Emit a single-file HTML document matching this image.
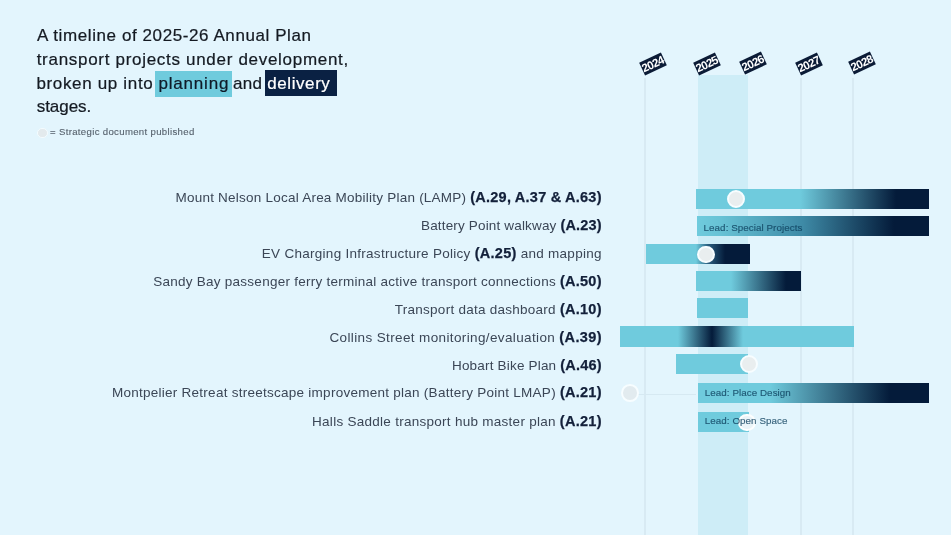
<!DOCTYPE html>
<html><head><meta charset="utf-8">
<style>
html,body{margin:0;padding:0}
body{width:951px;height:535px;overflow:hidden;position:relative;background:#E3F5FD;font-family:"Liberation Sans",sans-serif}
.a{position:absolute}
.t{position:absolute;font-size:17px;-webkit-text-stroke:0.22px currentColor;color:#141a22;white-space:nowrap;line-height:1}
.hl{position:absolute}
.lg{position:absolute;left:50px;top:127.4px;font-size:9.6px;letter-spacing:0.33px;color:#57626d;-webkit-text-stroke:0.12px #57626d;white-space:nowrap;line-height:1}
.grid{position:absolute;top:78px;width:2px;height:457px;background:#D8EAF3}
.yr{position:absolute;width:24px;height:14px;background:#0B1B36;color:#fff;font-weight:bold;font-size:11.5px;letter-spacing:-0.65px;text-indent:-0.65px;line-height:15px;text-align:center;transform:rotate(-25deg)}
.lab{position:absolute;right:349.5px;font-size:13.5px;color:#3b4656;white-space:nowrap;line-height:1;text-align:right}
.lab b{font-size:14.5px;color:#13203a;-webkit-text-stroke:0.25px #13203a}
.bar{position:absolute}
.circ{position:absolute;border-radius:50%;background:#E9EEEF;border:2px solid #F7FDFF;box-sizing:border-box}
.lead{position:absolute;font-size:9.8px;letter-spacing:0.06px;color:rgba(12,62,92,0.8);-webkit-text-stroke:0.2px rgba(12,62,92,0.6);white-space:nowrap;line-height:1}
</style></head>
<body>
<div id="w" style="position:absolute;left:0;top:0;width:951px;height:535px;filter:blur(0.3px)">
<!-- title -->
<div class="hl" style="left:155.2px;top:71px;width:76.9px;height:25.5px;background:#6FCBDD"></div>
<div class="hl" style="left:264.7px;top:70.1px;width:72.5px;height:26.1px;background:#0A2143"></div>
<div class="t" id="t1" style="left:37px;top:26.51px;letter-spacing:0.587px">A timeline of 2025-26 Annual Plan</div>
<div class="t" id="t2" style="left:36.7px;top:51.1px;letter-spacing:0.70px">transport projects under development,</div>
<div class="t" id="t3a" style="left:36.4px;top:74.6px;letter-spacing:0.661px">broken up into</div>
<div class="t" id="t3b" style="left:158.5px;top:74.6px;letter-spacing:0.80px;color:#0f1a28">planning</div>
<div class="t" id="t3c" style="left:233px;top:74.6px;letter-spacing:0.25px">and</div>
<div class="t" id="t3d" style="left:267.3px;top:74.6px;letter-spacing:0.57px;color:#fff">delivery</div>
<div class="t" id="t4" style="left:36.7px;top:98.4px;letter-spacing:-0.04px">stages.</div>
<!-- legend -->
<div class="circ" style="left:37.4px;top:127.7px;width:10.4px;height:10.4px;border-width:1.6px;background:#E3EAED;border-color:#F3FBFE"></div>
<div class="lg" id="lg">= Strategic document published</div>

<!-- shaded column & grid -->
<div class="a" style="left:697.5px;top:75px;width:50px;height:460px;background:#CEEDF7"></div>
<div class="grid" style="left:644px"></div>
<div class="grid" style="left:800px"></div>
<div class="grid" style="left:852.2px"></div>

<!-- year labels -->
<div class="yr" style="left:641.3px;top:56.5px">2024</div>
<div class="yr" style="left:695px;top:56.6px">2025</div>
<div class="yr" style="left:740.5px;top:56.3px">2026</div>
<div class="yr" style="left:797.1px;top:56.5px">2027</div>
<div class="yr" style="left:849.5px;top:56.1px">2028</div>

<!-- row labels -->
<div class="lab" id="l1" style="top:190.07px;letter-spacing:0.232px;right:349.27px">Mount Nelson Local Area Mobility Plan (LAMP) <b>(A.29, A.37 &amp; A.63)</b></div>
<div class="lab" id="l2" style="top:218.07px;letter-spacing:0.163px;right:349.34px">Battery Point walkway <b>(A.23)</b></div>
<div class="lab" id="l3" style="top:245.57px;letter-spacing:0.279px;right:349.22px">EV Charging Infrastructure Policy <b>(A.25)</b> and mapping</div>
<div class="lab" id="l4" style="top:273.57px;letter-spacing:0.258px;right:349.24px">Sandy Bay passenger ferry terminal active transport connections <b>(A.50)</b></div>
<div class="lab" id="l5" style="top:301.57px;letter-spacing:0.260px;right:349.24px">Transport data dashboard <b>(A.10)</b></div>
<div class="lab" id="l6" style="top:330.07px;letter-spacing:0.372px;right:349.13px">Collins Street monitoring/evaluation <b>(A.39)</b></div>
<div class="lab" id="l7" style="top:358.27px;letter-spacing:0.190px;right:349.31px">Hobart Bike Plan <b>(A.46)</b></div>
<div class="lab" id="l8" style="top:385.47px;letter-spacing:0.262px;right:349.24px">Montpelier Retreat streetscape improvement plan (Battery Point LMAP) <b>(A.21)</b></div>
<div class="lab" id="l9" style="top:414.27px;letter-spacing:0.273px;right:349.23px">Halls Saddle transport hub master plan <b>(A.21)</b></div>

<!-- bars -->
<div class="bar" style="left:696.3px;top:189.2px;width:232.7px;height:19.4px;background:linear-gradient(90deg,#6FCBDD 0px,#6FCBDD 104px,#041B3A 200px,#041B3A 100%)"></div>
<div class="bar" style="left:697px;top:216.3px;width:232px;height:19.4px;background:linear-gradient(90deg,#6FCBDD 0px,#68C3D6 22px,#3E8AA6 106px,#041B3A 197px,#041B3A 100%)"></div>
<div class="bar" style="left:645.7px;top:243.7px;width:104.3px;height:19.9px;background:linear-gradient(90deg,#6FCBDD 0px,#6FCBDD 50px,#2A5F80 62px,#041B3A 79px,#041B3A 100%)"></div>
<div class="bar" style="left:696.4px;top:271.1px;width:104.4px;height:19.8px;background:linear-gradient(90deg,#6FCBDD 0px,#6FCBDD 35px,#041B3A 90px,#041B3A 100%)"></div>
<div class="bar" style="left:696.6px;top:298.1px;width:51.7px;height:20.2px;background:#6FCBDD"></div>
<div class="bar" style="left:620px;top:325.6px;width:233.6px;height:21.6px;background:linear-gradient(90deg,#6FCBDD 0px,#6FCBDD 58px,#041B3A 92px,#6FCBDD 123px,#6FCBDD 100%)"></div>
<div class="bar" style="left:676px;top:353.9px;width:72.2px;height:20.3px;background:#6FCBDD"></div>
<div class="a" style="left:638px;top:393.6px;width:58px;height:1px;background:#D6E9F2"></div>
<div class="bar" style="left:697.6px;top:382.5px;width:231.6px;height:20.9px;background:linear-gradient(90deg,#6FCBDD 0px,#6FCBDD 72px,#041B3A 192px,#041B3A 100%)"></div>
<div class="bar" style="left:698px;top:411.8px;width:50.8px;height:20px;background:#6FCBDD"></div>

<!-- circles -->
<div class="circ" style="left:727.4px;top:189.5px;width:18px;height:18px"></div>
<div class="circ" style="left:697.45px;top:245.55px;width:17.5px;height:17.5px"></div>
<div class="circ" style="left:739.8px;top:354.9px;width:18.4px;height:18.4px"></div>
<div class="circ" style="left:621.1px;top:384.2px;width:17.8px;height:17.8px;background:#E2EBEF"></div>
<div class="circ" style="left:738.3px;top:413.5px;width:17.8px;height:17.8px;background:#EAF4F8;border-color:rgba(255,255,255,0.85)"></div>

<!-- lead texts -->
<div class="lead" id="ld1" style="left:703.6px;top:222.8px">Lead: Special Projects</div>
<div class="lead" id="ld2" style="left:704.8px;top:388.1px">Lead: Place Design</div>
<div class="lead" id="ld3" style="left:704.8px;top:416.1px">Lead: Open Space</div>
</div>
</body></html>
